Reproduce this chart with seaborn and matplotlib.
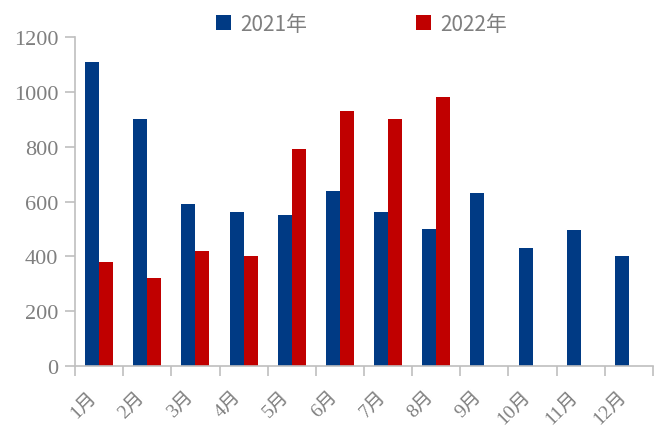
import numpy as np
import pandas as pd
import seaborn as sns
import matplotlib.pyplot as plt
import matplotlib.transforms as mtransforms
from matplotlib.patches import Patch

months = ["1月", "2月", "3月", "4月", "5月", "6月", "7月", "8月", "9月", "10月", "11月", "12月"]
series_names = ["2021年", "2022年"]
values_2021 = [1110, 900, 590, 560, 550, 640, 560, 500, 630, 430, 495, 400]
values_2022 = [380, 320, 420, 400, 790, 930, 900, 980, np.nan, np.nan, np.nan, np.nan]
y_ticks = [0, 200, 400, 600, 800, 1000, 1200]

colors = ["#003A84", "#C00000"]
axis_gray = "#BFBFBF"
text_gray = "#7F7F7F"

df = pd.DataFrame({
    "month": months * 2,
    "year": [series_names[0]] * len(months) + [series_names[1]] * len(months),
    "value": values_2021 + values_2022,
})

sns.set_theme(style="white")
plt.rcParams["font.family"] = ["Liberation Serif", "Noto Sans CJK SC"]

fig = plt.figure(figsize=(6.54, 4.31), dpi=100)
ax = fig.add_axes([75 / 654, 1 - 367 / 431, 578 / 654, 329 / 431])

sns.barplot(data=df, x="month", y="value", hue="year", order=months,
            hue_order=series_names, palette=colors, width=0.58,
            linewidth=0, saturation=1, legend=False, ax=ax)

ax.set_xlim(-0.5, len(months) - 0.5)
ax.set_ylim(0, 1200)
ax.set_yticks(y_ticks)
ax.set_xlabel("")
ax.set_ylabel("")

for side in ["top", "right"]:
    ax.spines[side].set_visible(False)
for side in ["left", "bottom"]:
    ax.spines[side].set_color(axis_gray)
    ax.spines[side].set_linewidth(1.2)

ax.tick_params(axis="y", which="major", left=True, length=7, width=1.2,
               color=axis_gray, labelsize=16, labelcolor=text_gray, pad=5)

# category boundary ticks on the x axis, labels centred in each category
ax.set_xticks(np.arange(-0.5, len(months) + 0.5, 1.0), minor=True)
ax.tick_params(axis="x", which="minor", bottom=True, length=7, width=1.2, color=axis_gray)
ax.tick_params(axis="x", which="major", bottom=False, length=0, pad=20)
ax.set_xticks(range(len(months)))
ax.set_xticklabels(months, rotation=45, ha="right", va="center",
                   rotation_mode="anchor", fontsize=14, color=text_gray)
shift = mtransforms.ScaledTranslation(-5 / 100, 0, fig.dpi_scale_trans)
for lbl in ax.get_xticklabels():
    lbl.set_transform(lbl.get_transform() + shift)

handles = [Patch(facecolor=c, edgecolor="none") for c in colors]
fig.legend(handles, series_names, loc="center", bbox_to_anchor=(0.553, 1 - 25 / 431),
           ncol=2, frameon=False, handlelength=0.72, handleheight=0.72,
           handletextpad=0.45, columnspacing=5.2,
           prop={"family": ["Noto Sans CJK SC"], "size": 15}, labelcolor=text_gray)

fig.savefig("out.png", dpi=100)
